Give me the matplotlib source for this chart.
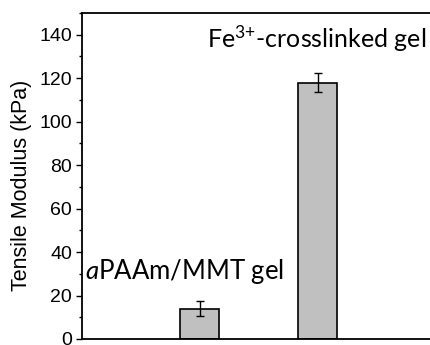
import matplotlib
matplotlib.use("Agg")
import matplotlib.pyplot as plt
from matplotlib.ticker import MultipleLocator

# --- data ---
positions = [1, 2]
moduli = [14, 118]
errors = [3.5, 4.5]
labels = ["$\\mathit{a}$PAAm/MMT gel", "Fe$^{3{+}}$-crosslinked gel"]

plt.rcParams["mathtext.fontset"] = "custom"
plt.rcParams["mathtext.rm"] = "Lato"
plt.rcParams["mathtext.it"] = "Lato:italic"

fig = plt.figure(figsize=(4.31, 3.45), dpi=100)
ax = fig.add_axes([0.190, 0.0174, 0.821, 0.945])

ax.bar(positions, moduli, width=0.33, color="#c0c0c0", edgecolor="black",
       linewidth=1.2, zorder=2)
ax.errorbar(positions, moduli, yerr=errors, fmt="none", ecolor="black",
            elinewidth=1.0, capsize=3, capthick=1.0, zorder=3)

ax.set_xlim(0, 3)
ax.set_ylim(0, 150)
ax.yaxis.set_major_locator(MultipleLocator(20))
ax.yaxis.set_minor_locator(MultipleLocator(10))
ax.tick_params(axis="y", which="major", direction="out", length=4, width=1,
               labelsize=14, pad=3)
ax.tick_params(axis="y", which="minor", direction="out", length=2, width=1)
ax.set_xticks([])
for lbl in ax.get_yticklabels():
    lbl.set_family("Liberation Sans")
for s in ax.spines.values():
    s.set_linewidth(1.3)

ax.set_ylabel("Tensile Modulus (kPa)", family="Liberation Sans", fontsize=15.5)
ax.yaxis.set_label_coords(-0.141, 0.47)

ax.text(0.03, 31, labels[0], family="Lato", fontsize=18.5, ha="left",
        va="center")
ax.text(1.06, 138, labels[1], family="Lato", fontsize=18, ha="left",
        va="center")

fig.savefig("out.png", dpi=100)
